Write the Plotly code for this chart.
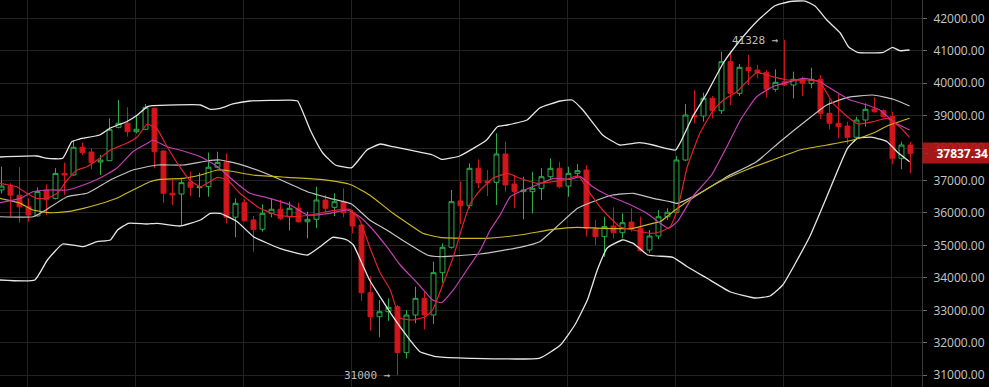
import plotly.graph_objects as go

# ---------------- data ----------------
idx = list(range(102))
opens = [36710,36830,36550,36190,35910,36710,36450,37220,37170,38025,
         37880,37570,37611,38640,38765,38505,38580,39226,37910,36607,
         36585,36955,36780,36810,37410,37580,35870,36318,35785,35500,
         35990,36115,35885,36145,35730,35805,36400,36175,36348,36010,
         35630,33543,32803,32957,33113,31695,32856,33370,32856,34160,
         34942,36370,36224,37377,36985,36945,37818,36893,36656,36656,
         36760,37118,37377,36830,37222,37325,35530,35270,35600,35392,
         35720,35530,34860,35290,35885,36022,37633,39020,38990,39535,
         39152,40662,39688,40490,40407,40335,39812,40046,39944,40120,
         39996,40120,39072,38764,38680,38333,38866,39205,39152,38970,
         37685,38095]
highs = [37426,36915,37410,36450,36790,36880,37380,37550,38220,38170,
         37990,37790,38918,39482,39257,39020,39360,39250,37920,37040,
         37040,37275,37240,37860,37890,37840,36450,36420,35907,36265,
         36450,36400,36348,36318,36040,36810,36555,36607,36760,36092,
         35650,34056,33318,33370,33164,33010,33730,33575,34500,35065,
         36708,36966,37530,37653,37325,38456,38197,37170,37118,37272,
         37377,37685,37580,37426,37510,37480,35785,35885,36175,35990,
         36145,35885,35475,36092,36145,37755,39360,39790,39707,39605,
         40970,40970,40592,40869,40561,40407,40428,41328,40356,40200,
         40477,40253,39504,39667,38813,38970,39380,39565,39195,39120,
         38197,38197]
lows = [36600,35885,35700,35730,35890,35940,36420,36550,37150,37790,
        37350,37170,37600,38610,38350,38455,38560,37377,36317,36246,
        35600,36523,36480,36500,37380,35680,35250,35730,34807,35425,
        35867,35785,35455,35700,35220,35530,35990,35907,35867,35374,
        33296,32372,32168,32680,31000,31521,32600,32415,32578,33850,
        34900,35660,36145,36760,36523,36246,36656,36145,35805,35990,
        36400,37017,36760,36500,37118,35270,35013,34650,35220,35220,
        35425,34807,34776,35190,35785,36000,37600,38765,38813,38918,
        39050,39328,39605,39944,40150,39565,39738,39913,39534,39605,
        39842,38896,38580,38302,38126,38300,38660,39090,38950,37510,
        37346,37223]
closes = [36830,36550,36190,35940,36660,36420,37220,37170,38025,37860,
          37550,37630,38580,38765,38505,38580,39257,37890,36607,36555,
          36935,36790,36810,37410,37560,35867,36300,35762,35497,35990,
          36115,35835,36145,35730,35805,36400,36145,36348,36010,35600,
          33543,32803,32957,33093,31695,32856,33370,32856,34160,34942,
          36348,36224,37377,36933,36933,37818,36862,36656,36710,36760,
          37118,37377,36810,37222,37304,35530,35270,35580,35392,35700,
          35530,34838,35290,35885,36022,37633,39020,38970,39535,39152,
          40662,39688,40490,40385,40323,39812,40027,39944,40120,39996,
          40120,39072,38764,38660,38333,38866,39195,39120,38970,37685,
          38095,37837.34]

# Bollinger upper band (candle position, price)
bb_up_x = [-0.2,3.9,5.1,6.8,7.8,8.7,10.9,12.1,13.9,15.1,16.2,16.8,22.1,23.2,24.3,25.7,27.6,32.1,32.9,
           34.3,35.7,37.1,38.9,40.6,42.1,43.5,45.7,47.9,48.9,50.9,53.9,55.1,56.2,58.4,59.8,62.1,63.4,
           64.6,66.8,68.7,70.9,72.4,74.9,75.4,76.8,78.4,80.2,82.1,83.9,85.9,87.6,89.3,90.4,91.7,93.2,
           94.1,95.1,98.0,99.0,99.8,100.9]
bb_up_y = [37725,37756,37685,37685,38197,38280,38404,38620,38813,39020,39276,39306,39328,39195,39226,39359,39451,39480,39451,
           38558,37849,37479,37396,37941,38126,38043,37919,37787,37654,37756,38249,38659,38712,38866,39236,39451,39482,
           39174,38404,38095,38166,38095,37941,38157,38967,39698,40622,41331,41895,42379,42518,42533,42379,41948,41547,
           41125,40952,40952,41106,41001,41023]

bb_mid_x = [-0.2,3.5,4.6,7.3,9.5,12.1,14.6,17.3,20.2,22.8,24.3,26.5,29.8,34.0,36.5,38.9,40.9,42.8,45.1,47.3,
            48.7,50.2,53.2,57.6,59.8,61.7,64.0,65.7,67.9,70.2,72.4,74.3,75.1,77.6,80.6,83.9,86.5,89.5,91.7,
            94.0,96.8,99.1,100.9]
bb_mid_y = [35885,35885,36040,36502,36607,37017,37325,37479,37479,37602,37633,37500,37171,36656,36452,36277,35784,35476,35065,34705,
            34652,34674,34736,34942,35115,35577,36144,36348,36554,36607,36452,36348,36298,36607,37118,37580,38197,38866,39328,
            39565,39636,39504,39297]

bb_low_x = [-0.2,3.7,5.1,6.8,9.1,10.6,12.1,12.9,14.1,16.2,17.3,19.8,22.1,23.2,24.3,26.2,28.0,30.9,34.0,35.4,
            36.8,38.4,39.1,40.9,43.5,45.1,46.5,48.4,52.1,59.8,62.1,63.7,65.1,66.2,67.3,69.0,70.2,71.8,74.6,
            76.2,78.4,81.0,83.7,85.4,86.8,89.8,91.7,94.0,95.1,96.8,98.4,99.5,100.9]
bb_low_y = [33935,33935,34551,35044,34961,35115,35168,35476,35682,35660,35682,35599,35784,35990,35990,35731,35269,34911,34705,34961,
            35251,35168,35013,33935,32803,32187,31725,31570,31521,31530,31931,32547,33319,34243,34921,35168,35065,34705,34634,
            34344,33987,33565,33380,33442,33780,35269,36502,37993,38302,38333,38197,37889,37580]

ma_long_x = [-0.2,2.1,3.5,5.4,7.3,9.1,10.9,12.8,14.6,16.5,17.6,20.2,22.1,24.0,25.4,27.9,31.7,35.4,37.3,38.9,
             40.9,43.5,45.4,46.8,48.7,52.1,53.9,57.6,61.3,64.0,66.8,70.2,72.4,73.2,74.6,77.6,79.8,83.2,85.7,
             88.7,91.7,94.6,96.8,98.4,100.9]
ma_long_y = [36452,36298,36092,36009,36040,36144,36277,36452,36708,36964,37038,37069,37171,37325,37294,37171,37100,37038,36964,36863,
             36554,35990,35630,35374,35251,35220,35220,35321,35497,35559,35528,35528,35682,35731,36040,36607,36964,37377,37633,
             37941,38095,38249,38456,38681,38918]

ma_fast_x = [-0.2,1.7,2.8,3.9,5.1,6.2,7.3,8.4,9.5,10.9,12.1,13.9,15.1,16.2,17.3,18.4,19.8,20.9,22.1,24.0,
             25.1,26.5,28.7,30.6,32.4,34.3,36.8,38.7,39.8,40.9,42.1,43.2,44.3,45.7,47.1,47.9,49.1,50.2,51.2,
             52.1,53.2,54.6,56.2,57.6,59.5,61.3,62.8,64.1,65.4,66.8,68.7,70.2,72.1,73.2,74.3,75.1,76.2,77.6,
             79.1,80.2,81.7,83.9,85.7,87.3,89.5,90.9,92.4,94.0,95.2,96.8,98.4,99.8,100.9]
ma_fast_y = [36915,36810,36607,36452,36452,36607,37017,37325,37426,37685,37941,38148,38351,38742,38579,38043,37426,37017,36810,37100,
             37017,36607,36144,35938,35885,35938,36070,36113,35784,34961,34141,33627,32763,32702,32803,33010,33842,34652,35577,
             36298,36708,37069,37223,37069,36915,36964,37038,37140,36607,36092,35577,35476,35374,35423,35577,36092,37426,38456,
             39174,39482,39738,40323,40200,40098,40098,40046,39380,38967,38742,38813,38918,38659,38333]

ma_mid_x = [-0.2,2.1,3.5,5.4,7.3,9.1,10.9,12.8,14.6,16.2,16.8,18.4,20.2,22.1,24.0,25.7,27.6,29.8,32.1,34.0,
            36.5,38.4,39.8,41.3,42.8,44.3,46.2,47.9,48.9,50.2,51.7,53.2,54.3,55.4,56.5,57.6,59.5,61.3,63.2,
            64.3,65.7,67.3,69.5,71.7,73.2,74.1,75.1,76.8,78.9,80.6,82.1,83.9,85.7,87.6,89.1,90.9,92.4,94.3,
            96.2,97.6,99.1,100.9]
ma_mid_y = [36317,36452,36656,36709,36709,36863,37069,37377,37889,38148,38249,38043,37910,37735,37426,37017,36607,36452,36246,35938,
            35990,36092,35885,35476,34961,34397,33842,33319,33235,33627,34243,34859,35476,35938,36493,36656,36863,37069,37038,
            37118,36810,36554,36298,35990,35682,35528,35731,36502,37171,38043,38866,39584,39892,40046,40151,40046,39790,39482,
            39328,39174,38813,38558]

price_ticks = [31000, 32000, 33000, 34000, 35000, 36000, 37000, 38000, 39000, 40000, 41000, 42000]
last_price = 37837.34
high_mark = 41328
low_mark = 31000

# ---------------- figure ----------------
fig = go.Figure()
fig.add_trace(go.Candlestick(
    x=idx, open=opens, high=highs, low=lows, close=closes,
    increasing=dict(line=dict(color="#2dae4c", width=1), fillcolor="#000000"),
    decreasing=dict(line=dict(color="#d1161c", width=1), fillcolor="#d1161c"),
    whiskerwidth=0, hoverinfo="skip", showlegend=False))

lines = [
    (bb_up_x, bb_up_y, "#e6e6e6", 1.3),
    (bb_low_x, bb_low_y, "#e6e6e6", 1.3),
    (bb_mid_x, bb_mid_y, "#c4c4c4", 1.2),
    (ma_long_x, ma_long_y, "#c9b722", 1.2),
    (ma_mid_x, ma_mid_y, "#c43fb2", 1.2),
    (ma_fast_x, ma_fast_y, "#e0222a", 1.2),
]
for xs, ys, col, w in lines:
    fig.add_trace(go.Scatter(x=xs, y=ys, mode="lines", line=dict(color=col, width=w, shape="spline", smoothing=0.4),
                             hoverinfo="skip", showlegend=False))

fig.update_layout(
    width=989, height=387,
    margin=dict(l=0, r=67, t=0, b=0),
    paper_bgcolor="#000000", plot_bgcolor="#000000",
    showlegend=False, boxgap=0.22,
    xaxis=dict(range=[-0.167, 102.28], rangeslider=dict(visible=False),
               tickvals=[2.86 + 12 * k for k in range(9)], showticklabels=False, ticks="",
               showgrid=True, gridcolor="#232323", gridwidth=1, zeroline=False, showline=False),
    yaxis=dict(side="right", range=[30637, 42564], tickvals=price_ticks,
               ticktext=[f"{v:.2f}" for v in price_ticks],
               tickfont=dict(family="Open Sans", size=12, color="#c8c8c8"),
               ticks="outside", ticklen=4, tickcolor="#6a6a6a", ticklabelstandoff=4,
               showline=True, linecolor="#3a3a3a", linewidth=1,
               showgrid=True, gridcolor="#232323", gridwidth=1, zeroline=False),
)

fig.add_annotation(x=86.6, y=high_mark, xref="x", yref="y", xanchor="right", yanchor="middle",
                   text=f"{high_mark} \u2192", showarrow=False,
                   font=dict(family="DejaVu Sans Mono", size=11, color="#bdbdbd"))
fig.add_annotation(x=43.5, y=low_mark, xref="x", yref="y", xanchor="right", yanchor="middle",
                   text=f"{low_mark} \u2192", showarrow=False,
                   font=dict(family="DejaVu Sans Mono", size=11, color="#bdbdbd"))
fig.add_annotation(x=1, y=last_price, xref="paper", yref="y", xanchor="left", yanchor="middle",
                   text=f"<b>{last_price:.2f}</b>", showarrow=False, width=63, height=16, borderpad=2,
                   align="right", bgcolor="rgba(178,24,24,0.93)",
                   font=dict(family="Open Sans", size=12, color="#ffffff"))
fig.add_shape(type="line", xref="paper", yref="y", x0=1.003, x1=1.007, y0=last_price, y1=last_price,
              line=dict(color="#ffffff", width=1))

fig.write_html("out.html", config={"displayModeBar": False},
               post_script="document.body.style.margin='0';document.body.style.padding='0';"
                           "document.body.style.background='#000';")
